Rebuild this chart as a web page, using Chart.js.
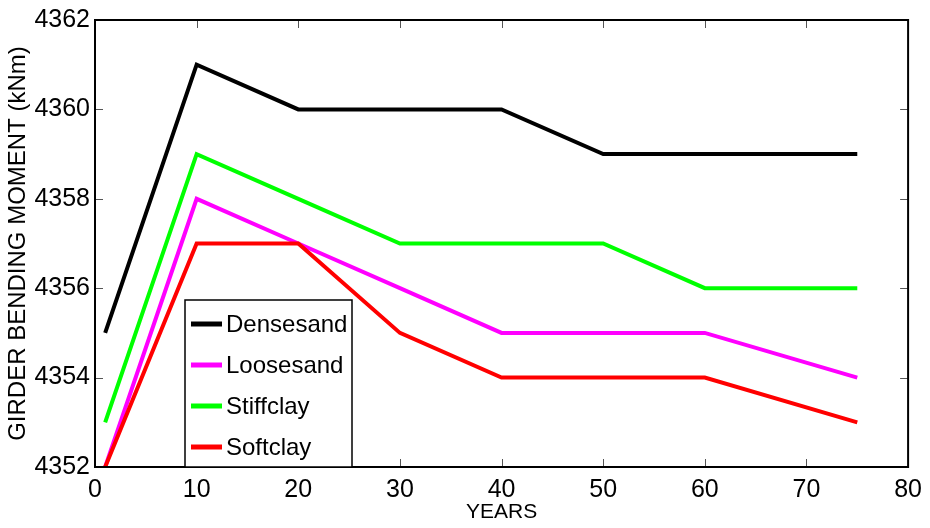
<!DOCTYPE html>
<html>
<head>
<meta charset="utf-8">
<script src="https://cdn.jsdelivr.net/npm/chart.js@4/dist/chart.umd.min.js"></script>
<style>
  html, body { margin: 0; padding: 0; background: #fff; }
  #wrap { width: 930px; height: 528px; }
</style>
</head>
<body>
<div id="wrap"><canvas id="chart" width="930" height="528"></canvas></div>
<script>
// data
const years = [1, 10, 20, 30, 40, 50, 60, 75];
const denseSand = [4355, 4361, 4360, 4360, 4360, 4359, 4359, 4359];
const looseSand = [4352, 4358, 4357, 4356, 4355, 4355, 4355, 4354];
const stiffClay = [4353, 4359, 4358, 4357, 4357, 4357, 4356, 4356];
const softClay = [4352, 4357, 4357, 4355, 4354, 4354, 4354, 4353];

const seriesNames = ['Densesand', 'Loosesand', 'Stiffclay', 'Softclay'];
const seriesColors = ['#000000', '#ff00ff', '#00ff00', '#ff0000'];
const seriesValues = [denseSand, looseSand, stiffClay, softClay];

const xTicks = [0, 10, 20, 30, 40, 50, 60, 70, 80];
const yTicks = [4352, 4354, 4356, 4358, 4360, 4362];

const FONT = "Arial, 'Liberation Sans', sans-serif";

const toPoints = (vals) => vals.map((v, i) => ({ x: years[i], y: v }));

// frame + inward ticks on all four sides
const framePlugin = {
    id: 'frame',
    afterDatasetsDraw(chart) {
        const { ctx, chartArea: a, scales } = chart;
        ctx.save();
        ctx.strokeStyle = '#555';
        ctx.lineWidth = 1;
        const len = 8;
        xTicks.forEach(t => {
            const px = Math.round(scales.x.getPixelForValue(t)) + 0.5;
            ctx.beginPath();
            ctx.moveTo(px, a.bottom); ctx.lineTo(px, a.bottom - len);
            ctx.moveTo(px, a.top); ctx.lineTo(px, a.top + len);
            ctx.stroke();
        });
        yTicks.forEach(t => {
            const py = Math.round(scales.y.getPixelForValue(t)) + 0.5;
            ctx.beginPath();
            ctx.moveTo(a.left, py); ctx.lineTo(a.left + len, py);
            ctx.moveTo(a.right, py); ctx.lineTo(a.right - len, py);
            ctx.stroke();
        });
        ctx.strokeStyle = '#000';
        ctx.lineWidth = 2;
        ctx.strokeRect(a.left, a.top, a.right - a.left, a.bottom - a.top);
        ctx.restore();
    }
};

// boxed legend sitting inside the plot, lower left
const legendPlugin = {
    id: 'boxLegend',
    afterDraw(chart) {
        const { ctx, chartArea: a } = chart;
        const boxX = a.left + 90, boxY = a.bottom - 167, boxW = 167, boxH = 167;
        ctx.save();
        ctx.fillStyle = '#fff';
        ctx.fillRect(boxX, boxY, boxW, boxH);
        ctx.strokeStyle = '#000';
        ctx.lineWidth = 1.5;
        ctx.strokeRect(boxX, boxY, boxW, boxH);
        ctx.font = '24px ' + FONT;
        ctx.textBaseline = 'middle';
        ctx.fillStyle = '#000';
        chart.data.datasets.forEach((ds, i) => {
            const cy = boxY + 24 + i * 41;
            ctx.strokeStyle = ds.borderColor;
            ctx.lineWidth = 5;
            ctx.beginPath();
            ctx.moveTo(boxX + 6, cy);
            ctx.lineTo(boxX + 37, cy);
            ctx.stroke();
            ctx.fillText(ds.label, boxX + 41, cy + 1);
        });
        ctx.restore();
    }
};

new Chart(document.getElementById('chart'), {
    type: 'line',
    data: {
        datasets: seriesNames.map((name, i) => ({
            label: name,
            data: toPoints(seriesValues[i]),
            borderColor: seriesColors[i],
            backgroundColor: seriesColors[i],
            borderWidth: 4,
            pointRadius: 0,
            tension: 0,
            fill: false,
            order: seriesNames.length - i
        }))
    },
    options: {
        responsive: false,
        animation: false,
        devicePixelRatio: 1,
        layout: { padding: { top: 17, right: 19, left: 0, bottom: 0 } },
        plugins: { legend: { display: false }, tooltip: { enabled: false } },
        scales: {
            x: {
                type: 'linear',
                min: 0, max: 80,
                afterBuildTicks: (s) => { s.ticks = xTicks.map(v => ({ value: v })); },
                afterFit: (s) => { s.height = 61; },
                grid: { display: false, drawTicks: false },
                border: { display: false },
                ticks: { color: '#000', padding: 8, callback: (v) => String(v), font: { family: FONT, size: 25 } },
                title: { display: true, text: 'YEARS', color: '#000', padding: { top: 0, bottom: 3 }, font: { family: FONT, size: 21 } }
            },
            y: {
                min: 4352, max: 4362,
                afterBuildTicks: (s) => { s.ticks = yTicks.map(v => ({ value: v })); },
                afterFit: (s) => { s.width = 95; },
                grid: { display: false, drawTicks: false },
                border: { display: false },
                ticks: { color: '#000', padding: 5, callback: (v) => String(v), font: { family: FONT, size: 25 } },
                title: { display: true, text: 'GIRDER BENDING MOMENT (kNm)', color: '#000', padding: { top: 4, bottom: 0 }, font: { family: FONT, size: 24 } }
            }
        }
    },
    plugins: [framePlugin, legendPlugin]
});
</script>
</body>
</html>
